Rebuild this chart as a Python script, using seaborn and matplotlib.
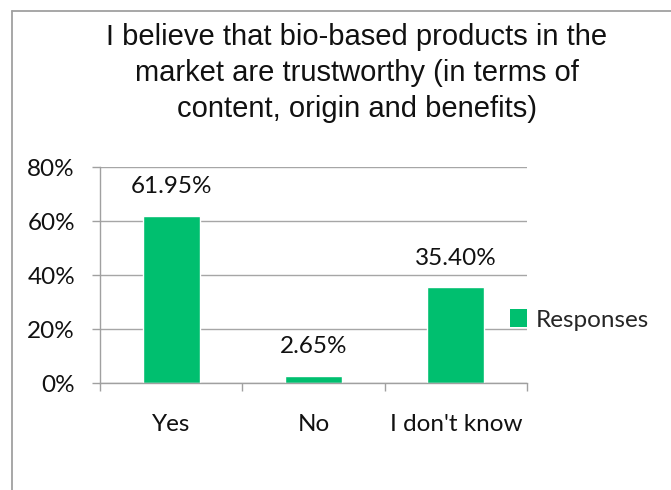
import matplotlib
matplotlib.use("Agg")
import matplotlib.pyplot as plt
import seaborn as sns
import pandas as pd
from matplotlib.lines import Line2D
from matplotlib.patches import Patch

categories = ["Yes", "No", "I don't know"]
values = [61.95, 2.65, 35.40]
series_name = "Responses"
title = "I believe that bio-based products in the\nmarket are trustworthy (in terms of\ncontent, origin and benefits)"
yticks = [0, 20, 40, 60, 80]
ytick_labels = ["0%", "20%", "40%", "60%", "80%"]

sns.set_theme(style="white")
plt.rcParams['font.family'] = ['Lato', 'DejaVu Sans']

df = pd.DataFrame({"cat": categories, "val": values})
color = "#00BF6F"
fs = 17.5

fig = plt.figure(figsize=(6.71, 4.90), dpi=100)
ax = fig.add_axes([100/671, 1-383/490, 427/671, 216/490])
sns.barplot(data=df, x="cat", y="val", color=color, width=0.4, ax=ax, saturation=1)

ax.set_ylim(0, 80)
ax.set_xlim(-0.5, 2.5)
ax.set_yticks(yticks)
ax.set_yticklabels(ytick_labels, fontsize=fs)
ax.set_xticks(range(len(categories)))
ax.set_xticklabels(categories, fontsize=fs)
ax.set_xlabel("")
ax.set_ylabel("")
ax.set_xticks([-0.5, 0.5, 1.5, 2.5], minor=True)
ax.tick_params(axis="x", which="major", length=0, pad=22, colors="#111111")
ax.tick_params(axis="x", which="minor", length=6, color="#A0A0A0", width=1, direction="out", bottom=True)
ax.tick_params(axis="y", length=6, color="#A0A0A0", width=1, direction="out", left=True, pad=12, labelcolor="#111111")
ax.yaxis.grid(True, color="#A6A6A6", linewidth=1)
ax.set_axisbelow(True)
for s in ["top", "right"]:
    ax.spines[s].set_visible(False)
for s in ["left", "bottom"]:
    ax.spines[s].set_color("#A0A0A0")
    ax.spines[s].set_linewidth(1)

for i, v in enumerate(values):
    ax.annotate(f"{v:.2f}%", (i, v), xytext=(0, 21), textcoords="offset points",
                ha="center", va="center", fontsize=fs, color="#111111")

fig.text(357/671, 1-73/490, title, ha="center", va="center", fontsize=21,
         family=['Liberation Sans', 'DejaVu Sans'], linespacing=1.38, color="#111111")

leg = fig.legend(handles=[Patch(facecolor=color, edgecolor="none", label=series_name)],
                 loc="center left", bbox_to_anchor=(510/671, 1-320/490), frameon=False,
                 fontsize=fs, handlelength=0.7, handleheight=0.7, handletextpad=0.35,
                 borderpad=0, borderaxespad=0)

fig.add_artist(Line2D([12/671, 1], [1-11/490, 1-11/490], color="#A0A0A0", linewidth=1.3, transform=fig.transFigure))
fig.add_artist(Line2D([12/671, 12/671], [0, 1-11/490], color="#A0A0A0", linewidth=1.3, transform=fig.transFigure))

fig.savefig("out.png", dpi=100)
